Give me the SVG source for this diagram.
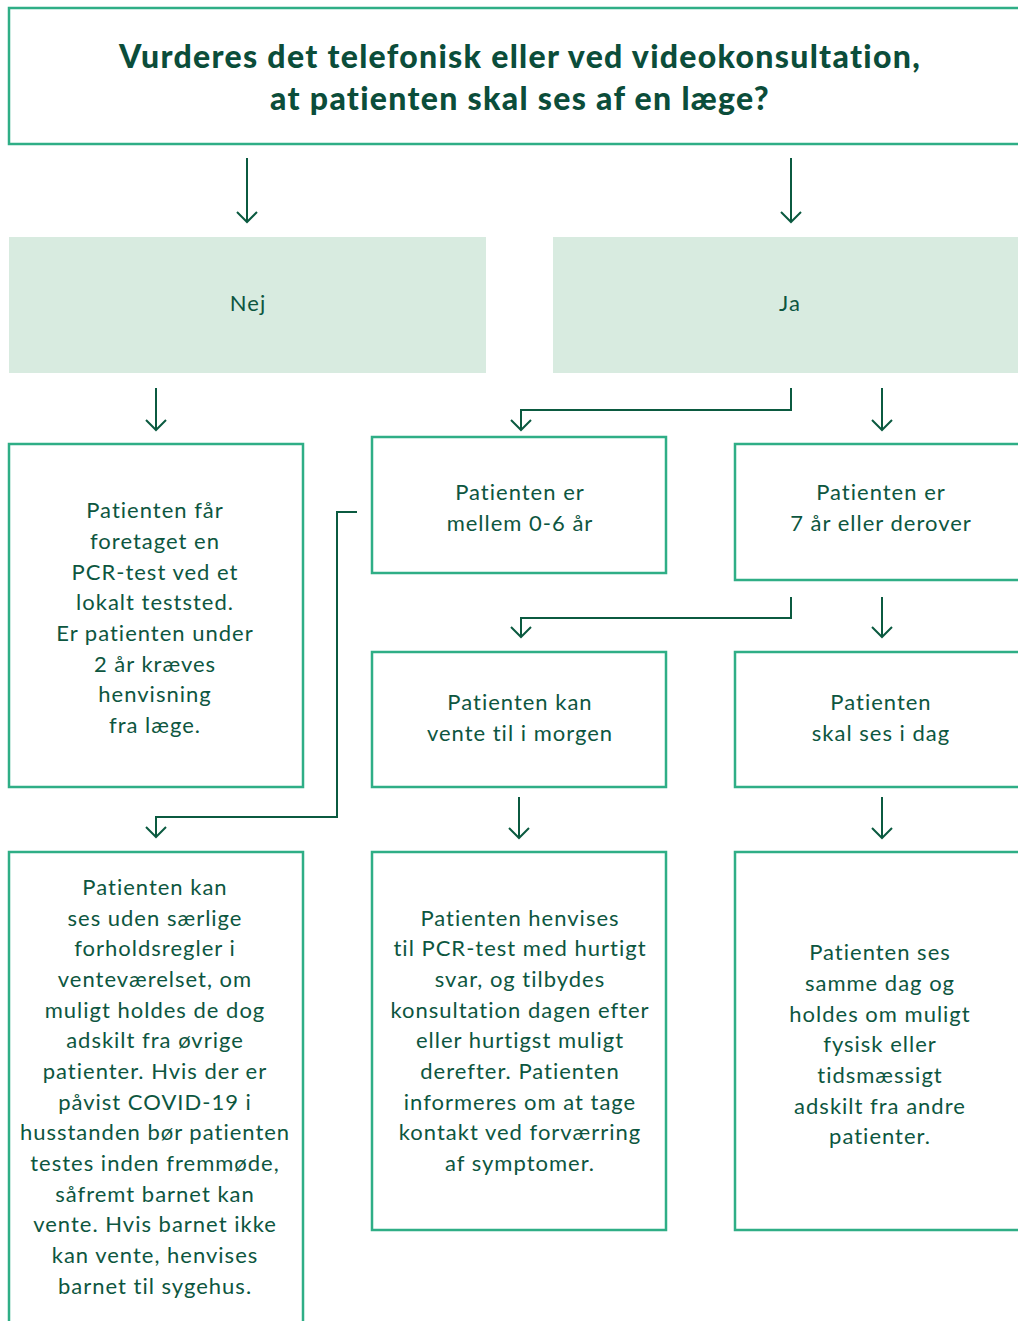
<svg xmlns="http://www.w3.org/2000/svg" width="1018" height="1321" viewBox="0 0 1018 1321">
<defs>
<marker id="ah" viewBox="0 0 14 24" refX="12" refY="12" markerWidth="14" markerHeight="24" markerUnits="userSpaceOnUse" orient="auto">
<path d="M2,2 L12,12 L2,22" fill="none" stroke="#0b5a40" stroke-width="2"/>
</marker>
<style>
.box{fill:#ffffff;stroke:#2fae86;stroke-width:2.5}
.ans{fill:#d8ebe0;stroke:none}
.t{font-family:Lato,"Open Sans",sans-serif;font-size:22px;letter-spacing:1px;fill:#0d5640;text-anchor:middle}
.title{font-family:Lato,"Open Sans",sans-serif;font-size:32px;letter-spacing:1.3px;font-weight:900;fill:#0b4d3a;text-anchor:middle}
.c{fill:none;stroke:#0b5a40;stroke-width:2}
</style>
</defs>
<rect width="1018" height="1321" fill="#ffffff"/>
<g id="question">
<rect class="box" x="9" y="8" width="1020" height="136"/>
<text class="title" x="520" y="68">Vurderes det telefonisk eller ved videokonsultation,</text>
<text class="title" x="520" y="110">at patienten skal ses af en læge?</text>
</g>
<g id="nej"><rect class="ans" x="9" y="237" width="477" height="136"/><text class="t" x="248" y="311">Nej</text></g>
<g id="ja"><rect class="ans" x="553" y="237" width="470" height="136"/><text class="t" x="790" y="311">Ja</text></g>
<g id="pcr">
<rect class="box" x="9" y="444" width="294" height="343"/>
<text class="t" x="155" y="518">Patienten får</text>
<text class="t" x="155" y="549">foretaget en</text>
<text class="t" x="155" y="580">PCR-test ved et</text>
<text class="t" x="155" y="610">lokalt teststed.</text>
<text class="t" x="155" y="641">Er patienten under</text>
<text class="t" x="155" y="672">2 år kræves</text>
<text class="t" x="155" y="702">henvisning</text>
<text class="t" x="155" y="733">fra læge.</text>
</g>
<g id="age06">
<rect class="box" x="372" y="437" width="294" height="136"/>
<text class="t" x="520" y="500">Patienten er</text>
<text class="t" x="520" y="531">mellem 0-6 år</text>
</g>
<g id="age7">
<rect class="box" x="735" y="444" width="300" height="136"/>
<text class="t" x="881" y="500">Patienten er</text>
<text class="t" x="881" y="531">7 år eller derover</text>
</g>
<g id="tomorrow">
<rect class="box" x="372" y="652" width="294" height="135"/>
<text class="t" x="520" y="710">Patienten kan</text>
<text class="t" x="520" y="741">vente til i morgen</text>
</g>
<g id="today">
<rect class="box" x="735" y="652" width="300" height="135"/>
<text class="t" x="881" y="710">Patienten</text>
<text class="t" x="881" y="741">skal ses i dag</text>
</g>
<g id="waitingroom">
<rect class="box" x="9" y="852" width="294" height="480"/>
<text class="t" x="155" y="895">Patienten kan</text>
<text class="t" x="155" y="926">ses uden særlige</text>
<text class="t" x="155" y="956">forholdsregler i</text>
<text class="t" x="155" y="987">venteværelset, om</text>
<text class="t" x="155" y="1018">muligt holdes de dog</text>
<text class="t" x="155" y="1048">adskilt fra øvrige</text>
<text class="t" x="155" y="1079">patienter. Hvis der er</text>
<text class="t" x="155" y="1110">påvist COVID-19 i</text>
<text class="t" x="155" y="1140">husstanden bør patienten</text>
<text class="t" x="155" y="1171">testes inden fremmøde,</text>
<text class="t" x="155" y="1202">såfremt barnet kan</text>
<text class="t" x="155" y="1232">vente. Hvis barnet ikke</text>
<text class="t" x="155" y="1263">kan vente, henvises</text>
<text class="t" x="155" y="1294">barnet til sygehus.</text>
</g>
<g id="pcrfast">
<rect class="box" x="372" y="852" width="294" height="378"/>
<text class="t" x="520" y="926">Patienten henvises</text>
<text class="t" x="520" y="956">til PCR-test med hurtigt</text>
<text class="t" x="520" y="987">svar, og tilbydes</text>
<text class="t" x="520" y="1018">konsultation dagen efter</text>
<text class="t" x="520" y="1048">eller hurtigst muligt</text>
<text class="t" x="520" y="1079">derefter. Patienten</text>
<text class="t" x="520" y="1110">informeres om at tage</text>
<text class="t" x="520" y="1140">kontakt ved forværring</text>
<text class="t" x="520" y="1171">af symptomer.</text>
</g>
<g id="sameday">
<rect class="box" x="735" y="852" width="300" height="378"/>
<text class="t" x="880" y="960">Patienten ses</text>
<text class="t" x="880" y="991">samme dag og</text>
<text class="t" x="880" y="1022">holdes om muligt</text>
<text class="t" x="880" y="1052">fysisk eller</text>
<text class="t" x="880" y="1083">tidsmæssigt</text>
<text class="t" x="880" y="1114">adskilt fra andre</text>
<text class="t" x="880" y="1144">patienter.</text>
</g>
<g id="connectors">
<path class="c" d="M247,158 V222" marker-end="url(#ah)"/>
<path class="c" d="M791,158 V222" marker-end="url(#ah)"/>
<path class="c" d="M156,388 V430" marker-end="url(#ah)"/>
<path class="c" d="M791,388 V410 H521 V430" marker-end="url(#ah)"/>
<path class="c" d="M882,388 V430" marker-end="url(#ah)"/>
<path class="c" d="M791,597 V618 H521 V637" marker-end="url(#ah)"/>
<path class="c" d="M882,597 V637" marker-end="url(#ah)"/>
<path class="c" d="M357,512 H337 V817 H156 V837" marker-end="url(#ah)"/>
<path class="c" d="M519,797 V838" marker-end="url(#ah)"/>
<path class="c" d="M882,797 V838" marker-end="url(#ah)"/>
</g>
</svg>
